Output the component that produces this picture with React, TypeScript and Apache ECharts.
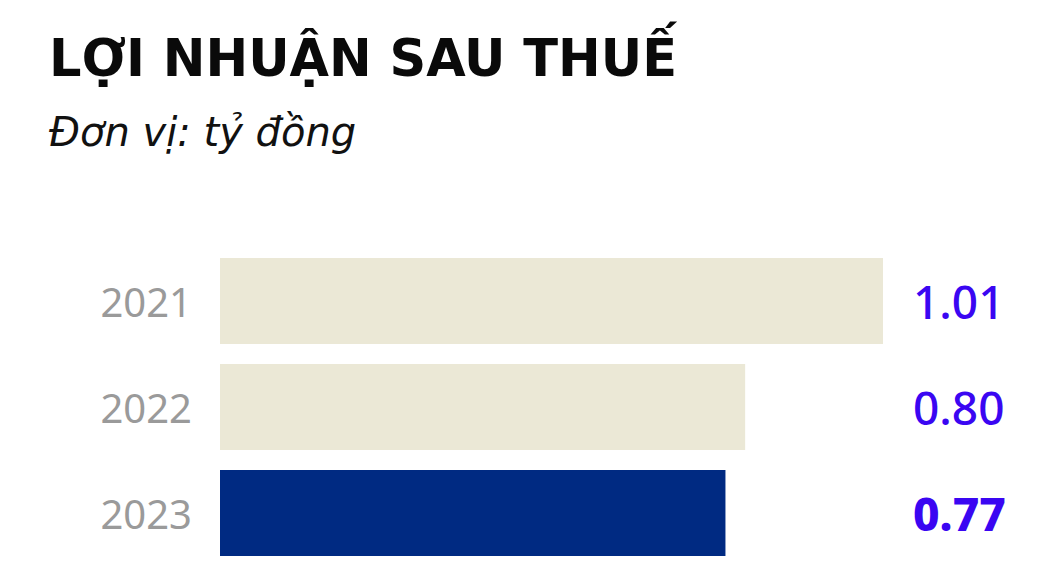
import React, { useEffect, useRef } from 'react';
import * as echarts from 'echarts';

const years = ['2021', '2022', '2023'];
const profits = [1.01, 0.8, 0.77];
const barColors = ['#ebe8d6', '#ebe8d6', '#002a82'];

const App: React.FC = () => {
  const chartRef = useRef<HTMLDivElement>(null);

  useEffect(() => {
    if (!chartRef.current) return;
    const chart = echarts.init(chartRef.current, undefined, { renderer: 'svg' });
    const last = profits.length - 1;

    chart.setOption({
      animation: false,
      backgroundColor: '#ffffff',
      title: {
        text: 'LỢI NHUẬN SAU THUẾ',
        subtext: 'Đơn vị: tỷ đồng',
        left: 44,
        top: 28,
        itemGap: 28,
        textStyle: {
          fontFamily: 'DejaVu Sans',
          fontWeight: 'bold',
          fontSize: 51,
          color: '#0a0a0a',
        },
        subtextStyle: {
          fontFamily: 'DejaVu Sans',
          fontStyle: 'italic',
          fontWeight: 300,
          fontSize: 40,
          color: '#111111',
        },
      },
      grid: { left: 220, right: 180, top: 248, bottom: 22, containLabel: false },
      xAxis: {
        type: 'value',
        min: 0,
        max: 1.01,
        show: false,
      },
      yAxis: [
        {
          type: 'category',
          data: years,
          inverse: true,
          axisLine: { show: false },
          axisTick: { show: false },
          axisLabel: {
            margin: 28,
            fontFamily: 'Noto Sans',
            fontSize: 40,
            color: '#9a9a9a',
          },
        },
        {
          type: 'category',
          position: 'right',
          data: profits.map((v) => v.toFixed(2)),
          inverse: true,
          axisLine: { show: false },
          axisTick: { show: false },
          axisLabel: {
            margin: 30,
            align: 'left',
            formatter: (v: string, i: number) => (i === last ? `{b|${v}}` : `{n|${v}}`),
            rich: {
              n: { fontFamily: 'Noto Sans', fontSize: 46, fontWeight: 500, color: '#3a06f2' },
              b: { fontFamily: 'Noto Sans', fontSize: 46, fontWeight: 800, color: '#3a06f2' },
            },
          },
        },
      ],
      series: [
        {
          type: 'bar',
          yAxisIndex: 0,
          barCategoryGap: '19%',
          data: profits.map((v, i) => ({ value: v, itemStyle: { color: barColors[i] } })),
        },
      ],
    });

    return () => {
      chart.dispose();
    };
  }, []);

  return (
    <div
      ref={chartRef}
      style={{ position: 'absolute', left: 0, top: 0, width: '1063px', height: '588px' }}
    ></div>
  );
};

export default App;
